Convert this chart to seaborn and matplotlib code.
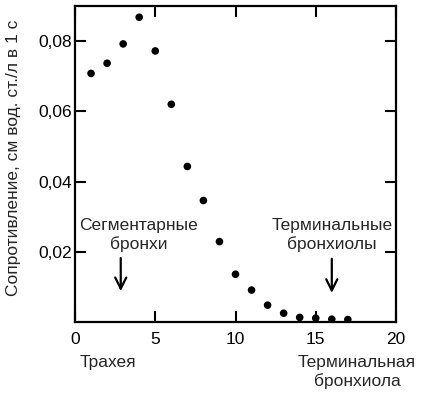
import matplotlib
matplotlib.use("Agg")
import matplotlib.pyplot as plt
import seaborn as sns
import pandas as pd

generation = [1, 2, 3, 4, 5, 6, 7, 8, 9, 10, 11, 12, 13, 14, 15, 16, 17]
resistance = [0.0708, 0.0737, 0.0792, 0.0868, 0.0772, 0.0620, 0.0443, 0.0346,
              0.0229, 0.0136, 0.0091, 0.0048, 0.0025, 0.0013, 0.0011, 0.0008, 0.0007]
xticks = [0, 5, 10, 15, 20]
xticklabels = ["0", "5", "10", "15", "20"]
yticks = [0.02, 0.04, 0.06, 0.08]
yticklabels = ["0,02", "0,04", "0,06", "0,08"]

sns.set_style("ticks")
plt.rcParams['font.family'] = ['Liberation Sans', 'DejaVu Sans']

FS = 12.5
df = pd.DataFrame({"g": generation, "r": resistance})

fig = plt.figure(figsize=(4.22, 3.94), dpi=100)
ax = fig.add_axes([75/422, 1-322/394, (396-75)/422, (322-6)/394])
sns.scatterplot(data=df, x="g", y="r", ax=ax, color="black", s=30,
                edgecolor="none", legend=False)

ax.set_xlim(0, 20)
ax.set_ylim(0, 0.09)
ax.set_xticks(xticks)
ax.set_xticklabels(xticklabels, fontsize=FS)
ax.set_yticks(yticks)
ax.set_yticklabels(yticklabels, fontsize=FS)
ax.tick_params(direction="in", length=8, width=1.5, top=True, right=True,
               colors="black")
ax.tick_params(axis="x", pad=7)
ax.tick_params(axis="y", pad=2.5)
for s in ax.spines.values():
    s.set_visible(True)
    s.set_linewidth(1.6)
    s.set_color("black")
ax.set_xlabel("")
ax.set_ylabel("")
fig.text(14/422, 1-158/394, "Сопротивление, см вод. ст./л в 1 с",
         rotation=90, ha="center", va="center", fontsize=FS)

ax.text(3.95, 0.0249, "Сегментарные\nбронхи", ha="center", va="center",
        fontsize=FS, linespacing=1.25)
ax.annotate("", xy=(2.85, 0.0080), xytext=(2.85, 0.0190),
            arrowprops=dict(arrowstyle="->", lw=1.6, color="black",
                            mutation_scale=20))
ax.text(16.0, 0.0248, "Терминальные\nбронхиолы", ha="center", va="center",
        fontsize=FS, linespacing=1.25)
ax.annotate("", xy=(16, 0.0075), xytext=(16, 0.0188),
            arrowprops=dict(arrowstyle="->", lw=1.6, color="black",
                            mutation_scale=20))

fig.text(108/422, 1-362/394, "Трахея", ha="center", va="center", fontsize=FS)
fig.text(357/422, 1-372/394, "Терминальная\nбронхиола", ha="center",
         va="center", fontsize=FS, linespacing=1.2)

fig.savefig("out.png", dpi=100)
